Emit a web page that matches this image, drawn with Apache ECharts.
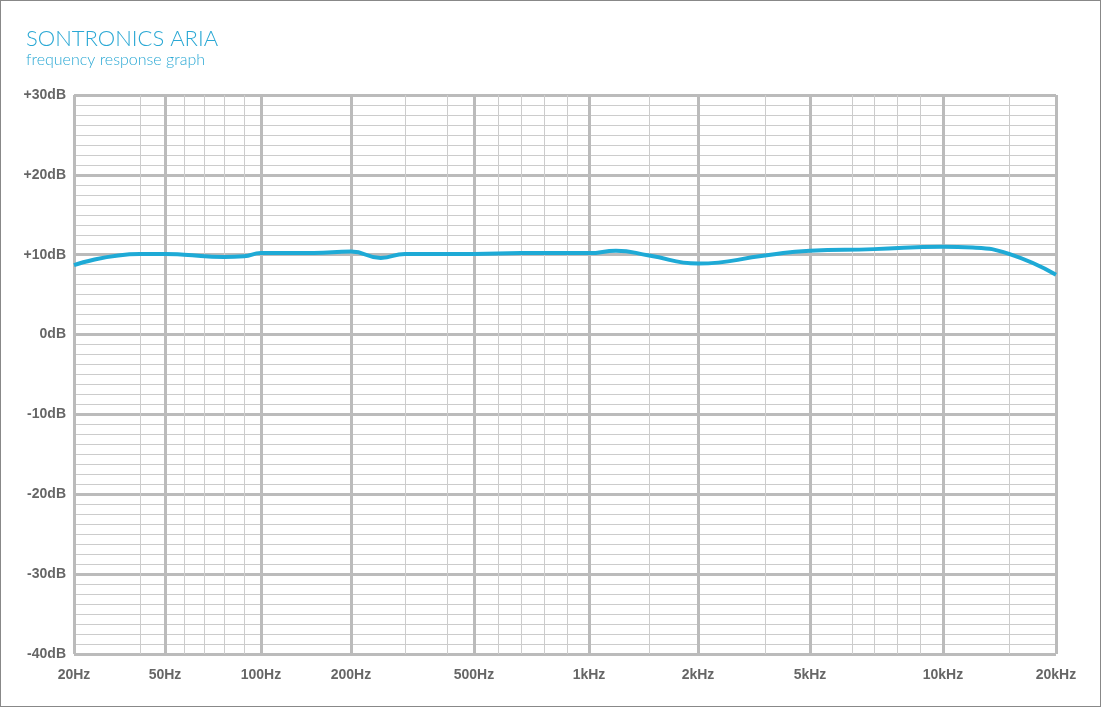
<!DOCTYPE html>
<html><head><meta charset="utf-8">
<script src="https://cdn.jsdelivr.net/npm/echarts@6/dist/echarts.min.js"></script>
<style>html,body{margin:0;padding:0;}#c{width:1099px;height:705px;border:1px solid #888;}</style>
</head><body><div id="c"></div>
<script>
// frequency grid of the printed chart and where each line sits along the axis (0..982)
const gridFreqs = [20,40,50,60,70,80,90,100,200,300,400,500,600,700,800,900,1000,1500,2000,3000,5000,6000,7000,8000,9000,10000,15000,20000];
const gridPos   = [0,66,91,110,130,150,170,187,277,331,373,400,424,447,470,493,515,575,624,691,736,778,800,823,846,869,935,982];
const majorFreqs = [20,50,100,200,500,1000,2000,5000,10000,20000];
const majorLabels = ['20Hz','50Hz','100Hz','200Hz','500Hz','1kHz','2kHz','5kHz','10kHz','20kHz'];
// response readings
const freqs = [20,40,50,60,80,90,100,150,200,250,300,500,700,1000,1200,1500,2000,3000,4000,5000,7000,10000,12000,15000,20000];
const dB    = [8.7,10.1,10.1,10.0,9.7,9.8,10.2,10.2,10.4,9.6,10.1,10.1,10.2,10.2,10.5,9.9,8.9,9.9,10.3,10.5,10.7,11.0,10.9,10.1,7.5];

function pos(f){
  const lf=Math.log(f);
  for(let i=0;i<gridFreqs.length-1;i++){
    const a=Math.log(gridFreqs[i]), b=Math.log(gridFreqs[i+1]);
    if(lf>=a&&lf<=b) return gridPos[i]+(lf-a)/(b-a)*(gridPos[i+1]-gridPos[i]);
  }
  return lf<Math.log(gridFreqs[0])?0:982;
}
const minorLines = gridFreqs.filter(f=>majorFreqs.indexOf(f)<0).map(f=>({xAxis:pos(f)}));
const majorLines = majorFreqs.map(f=>({xAxis:pos(f)}));
const labelMap = {}; majorFreqs.forEach((f,i)=>labelMap[Math.round(pos(f))]=majorLabels[i]);

const chart = echarts.init(document.getElementById('c'));
chart.setOption({
  animation:false,
  backgroundColor:'#fff',
  title:{text:'SONTRONICS ARIA',subtext:'frequency response graph',left:20,top:22,
    textStyle:{color:'#2aa8d4',fontSize:22,fontWeight:300,fontFamily:'Lato'},
    subtextStyle:{color:'#2aa8d4',fontSize:16,fontWeight:300,fontFamily:'Lato'},itemGap:2},
  grid:{left:73,top:94,width:982,height:559},
  xAxis:{type:'value',min:0,max:982,axisLine:{show:false},axisTick:{show:false},splitLine:{show:false},
    axisLabel:{customValues:majorFreqs.map(f=>Math.round(pos(f))),formatter:v=>labelMap[Math.round(v)]||'',
      color:'#666',fontWeight:'bold',fontSize:14,fontFamily:'Liberation Sans',margin:14}},
  yAxis:{type:'value',min:-40,max:30,interval:10,axisLine:{show:false},axisTick:{show:false},
    axisLabel:{formatter:v=>v>0?'+'+v+'dB':v+'dB',color:'#666',fontWeight:'bold',fontSize:14,fontFamily:'Liberation Sans',margin:8},
    splitLine:{lineStyle:{color:'#bbb',width:3}},
    minorTick:{show:false,splitNumber:8},minorSplitLine:{show:true,lineStyle:{color:'#ccc',width:1}}},
  series:[
    {type:'line',data:[],silent:true,markLine:{silent:true,symbol:'none',label:{show:false},
      lineStyle:{color:'#ccc',width:1,type:'solid'},data:minorLines},z:1},
    {type:'line',data:[],silent:true,markLine:{silent:true,symbol:'none',label:{show:false},
      lineStyle:{color:'#bbb',width:3,type:'solid'},data:majorLines},z:1},
    {type:'line',data:freqs.map((f,i)=>[pos(f),dB[i]]),smooth:true,showSymbol:false,
      lineStyle:{color:'#1eaad6',width:4},z:5}
  ]
});
</script></body></html>
